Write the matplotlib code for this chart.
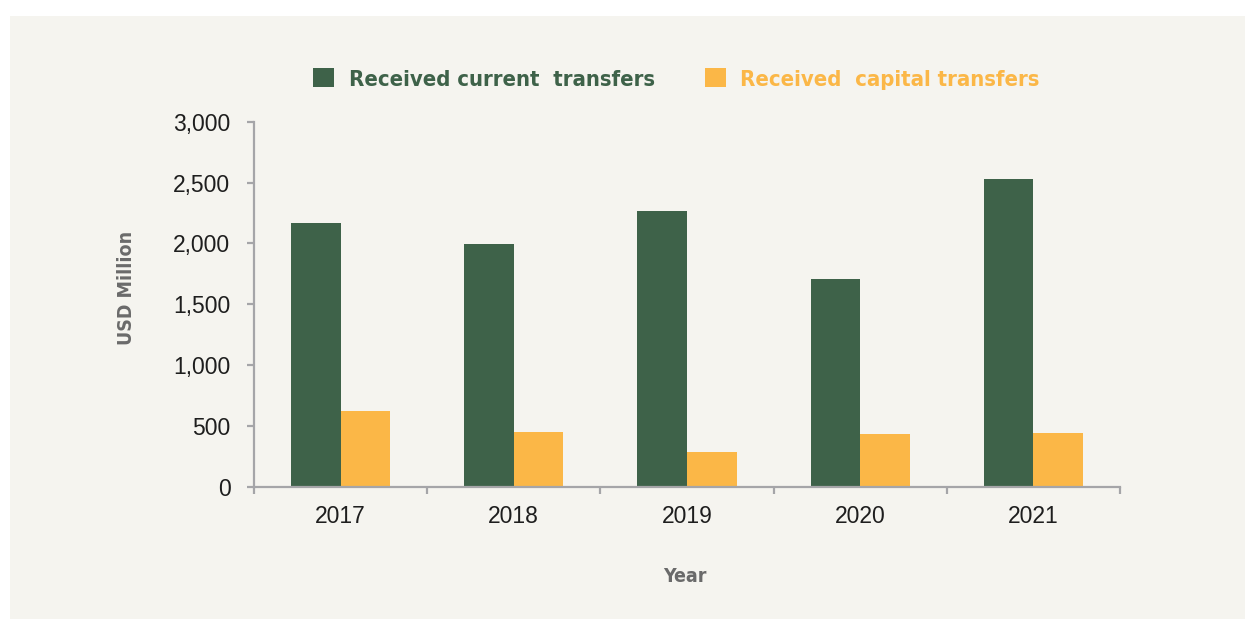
import matplotlib
matplotlib.use("Agg")
import matplotlib.pyplot as plt
import numpy as np
from matplotlib.patches import Rectangle


YEARS = ["2017", "2018", "2019", "2020", "2021"]
CURRENT_TRANSFERS = [2170, 1995, 2268, 1705, 2528]
CAPITAL_TRANSFERS = [627, 454, 287, 438, 440]

GREEN = "#3e6249"
ORANGE = "#fbb747"
PANEL = "#f5f4ef"
SPINE = "#a5a5a8"
LABEL_GREY = "#6a6a6a"

LEGEND_FONT = dict(family="DejaVu Sans", weight="bold", stretch="condensed")


def main():
    fig = plt.figure(figsize=(12.45, 6.19), dpi=100)
    fig.patch.set_facecolor("white")
    fig.patches.append(
        Rectangle((10 / 1245, 0), 1, 1 - 16 / 619, transform=fig.transFigure,
                  facecolor=PANEL, edgecolor="none", zorder=-10)
    )

    ax = fig.add_axes([254 / 1245, 1 - 487 / 619, 866 / 1245, 365.3 / 619])
    ax.set_facecolor("none")

    x = np.arange(len(YEARS))
    width = 0.286
    ax.bar(x - width / 2, CURRENT_TRANSFERS, width, color=GREEN,
           label="Received current  transfers")
    ax.bar(x + width / 2, CAPITAL_TRANSFERS, width, color=ORANGE,
           label="Received  capital transfers")

    ax.set_xlim(-0.5, len(YEARS) - 0.5)
    ax.set_ylim(0, 3000)

    for side in ["top", "right"]:
        ax.spines[side].set_visible(False)
    for side in ["left", "bottom"]:
        ax.spines[side].set_color(SPINE)
        ax.spines[side].set_linewidth(1.6)

    # category boundaries get the tick marks, centres get the labels
    ax.set_xticks(np.arange(len(YEARS) + 1) - 0.5)
    ax.set_xticklabels([])
    ax.set_xticks(x, minor=True)
    ax.set_xticklabels(YEARS, minor=True, fontsize=16.5,
                       family="Liberation Sans", color="#1e1e1e")
    ax.tick_params(axis="x", which="major", length=5, width=1.6,
                   color=SPINE, direction="out")
    ax.tick_params(axis="x", which="minor", length=0, pad=13)

    ax.set_yticks(range(0, 3001, 500))
    ax.set_yticklabels([f"{v:,}" for v in range(0, 3001, 500)],
                       fontsize=16.5, family="Liberation Sans", color="#1e1e1e")
    ax.tick_params(axis="y", length=5, width=1.6, color=SPINE, pad=12)

    ax.set_xlabel("Year", fontsize=14, color=LABEL_GREY, **LEGEND_FONT)
    ax.xaxis.set_label_coords(0.497, -0.246)
    ax.xaxis.label.set_va("center")
    ax.set_ylabel("USD Million", fontsize=14, color=LABEL_GREY, **LEGEND_FONT)
    ax.yaxis.set_label_coords(-0.147, 0.544)
    ax.yaxis.label.set_va("center")

    leg = fig.legend(
        loc="center", bbox_to_anchor=(676.5 / 1245, 1 - 79 / 619), ncol=2,
        frameon=False, prop=dict(size=15.8, **LEGEND_FONT),
        handlelength=0.95, handleheight=0.95, handletextpad=0.65,
        columnspacing=2.3,
    )
    for text, color in zip(leg.get_texts(), [GREEN, ORANGE]):
        text.set_color(color)

    fig.savefig("out.png", dpi=100, facecolor=fig.get_facecolor())
    plt.close(fig)


if __name__ == "__main__":
    main()
